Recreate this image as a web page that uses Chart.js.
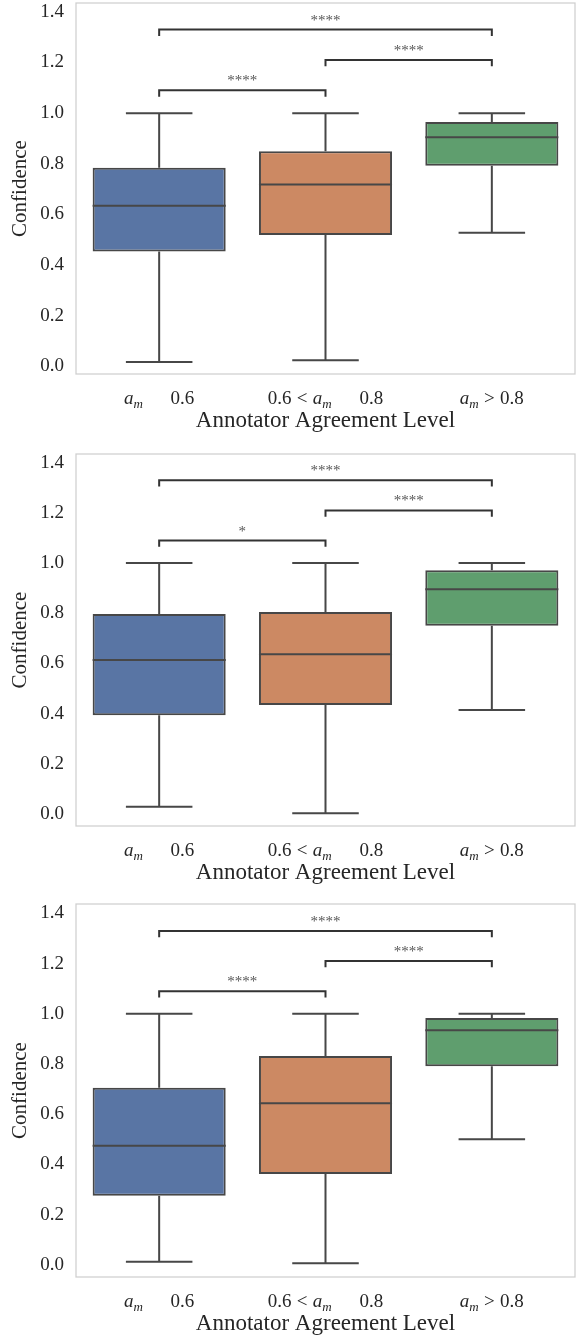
<!DOCTYPE html>
<html>
<head>
<meta charset="utf-8">
<script src="https://cdn.jsdelivr.net/npm/chart.js@4.4.1/dist/chart.umd.min.js"></script>
<style>
  html, body { margin: 0; padding: 0; background: #fff; }
  #wrap { position: relative; width: 577px; height: 1335px; }
  canvas { position: absolute; left: 0; }
</style>
</head>
<body>
<div id="wrap">
  <canvas id="c0" width="577" height="440" style="top:0px"></canvas>
  <canvas id="c1" width="577" height="450" style="top:440px"></canvas>
  <canvas id="c2" width="577" height="445" style="top:890px"></canvas>
</div>
<script>
const categories = ['a_m ≤ 0.6', '0.6 < a_m ≤ 0.8', 'a_m > 0.8'];
const yTicks = [0, 0.2, 0.4, 0.6, 0.8, 1.0, 1.2, 1.4];

// one row per panel, one value per category
const whiskerLow = [[0.017, 0.024, 0.528], [0.029, 0.003, 0.414], [0.013, 0.007, 0.500]];
const q1 = [[0.454, 0.519, 0.792], [0.394, 0.434, 0.750], [0.275, 0.362, 0.791]];
const median = [[0.634, 0.718, 0.905], [0.614, 0.637, 0.896], [0.475, 0.644, 0.934]];
const q3 = [[0.784, 0.850, 0.965], [0.797, 0.805, 0.972], [0.705, 0.832, 0.983]];
const whiskerHigh = [[1.0, 1.0, 1.0], [1.0, 1.0, 1.0], [1.0, 1.0, 1.0]];

const bracketPairs = [[0, 1], [1, 2], [0, 2]];
const bracketLevels = [1.09, 1.21, 1.33];
const bracketStars = [['****', '****', '****'], ['*', '****', '****'], ['****', '****', '****']];

const yLimits = [[-0.03, 1.435], [-0.048, 1.435], [-0.048, 1.437]];

const boxColors = ['#5975a4', '#cc8963', '#5f9e6e'];
const edge = '#474747';
const serif = '"Liberation Serif", "DejaVu Serif", serif';

// canvas layout: plot top / bottom inside each canvas
const plotTop = [3, 14, 14];
const plotBottom = [374, 386, 387];

function drawCategory(ctx, text, cx, baseline) {
    const size = 19;
    const normal = size + 'px ' + serif;
    const italic = 'italic ' + normal;
    const sub = 'italic 13px ' + serif;
    const rel = size * 0.278;
    const pieces = [];
    text.split(' ').forEach(tok => {
        if (tok === 'a_m') {
            pieces.push({ t: 'a', f: italic, dy: 0 });
            pieces.push({ t: 'm', f: sub, dy: 4 });
        } else if (tok === '<' || tok === '>') {
            pieces.push({ gap: rel });
            pieces.push({ t: tok, f: normal, dy: 0 });
            pieces.push({ gap: rel });
        } else if (tok === '≤') {
            // the symbol did not render in the source figure, only its space remains
            pieces.push({ gap: rel * 2 + size * 0.9 });
        } else {
            pieces.push({ t: tok, f: normal, dy: 0 });
        }
    });
    let total = 0;
    pieces.forEach(p => {
        if (p.t) { ctx.font = p.f; p.w = ctx.measureText(p.t).width; } else p.w = p.gap;
        total += p.w;
    });
    let x = cx - total / 2;
    ctx.fillStyle = '#262626';
    ctx.textAlign = 'left';
    ctx.textBaseline = 'alphabetic';
    pieces.forEach(p => {
        if (p.t) { ctx.font = p.f; ctx.fillText(p.t, x, baseline + p.dy); }
        x += p.w;
    });
}

const boxPlotParts = {
    id: 'boxPlotParts',
    beforeDatasetsDraw(chart) {
        const p = chart.options.panel;
        const { ctx, scales: { x, y } } = chart;
        const step = x.getPixelForValue(1) - x.getPixelForValue(0);
        ctx.save();
        ctx.strokeStyle = edge;
        ctx.lineWidth = 2;
        categories.forEach((c, i) => {
            const cx = x.getPixelForValue(i);
            const capHalf = step * 0.2;
            ctx.beginPath();
            ctx.moveTo(cx, y.getPixelForValue(q3[p][i]));
            ctx.lineTo(cx, y.getPixelForValue(whiskerHigh[p][i]));
            ctx.moveTo(cx, y.getPixelForValue(q1[p][i]));
            ctx.lineTo(cx, y.getPixelForValue(whiskerLow[p][i]));
            ctx.moveTo(cx - capHalf, y.getPixelForValue(whiskerHigh[p][i]));
            ctx.lineTo(cx + capHalf, y.getPixelForValue(whiskerHigh[p][i]));
            ctx.moveTo(cx - capHalf, y.getPixelForValue(whiskerLow[p][i]));
            ctx.lineTo(cx + capHalf, y.getPixelForValue(whiskerLow[p][i]));
            ctx.stroke();
        });
        ctx.restore();
    },
    afterDatasetsDraw(chart) {
        const p = chart.options.panel;
        const { ctx, chartArea, scales: { x, y } } = chart;
        const step = x.getPixelForValue(1) - x.getPixelForValue(0);
        ctx.save();
        ctx.strokeStyle = edge;
        ctx.lineWidth = 2;
        categories.forEach((c, i) => {
            const cx = x.getPixelForValue(i);
            const my = y.getPixelForValue(median[p][i]);
            ctx.beginPath();
            ctx.moveTo(cx - step * 0.4, my);
            ctx.lineTo(cx + step * 0.4, my);
            ctx.stroke();
        });

        // significance brackets
        bracketPairs.forEach((pair, k) => {
            const x0 = x.getPixelForValue(pair[0]);
            const x1 = x.getPixelForValue(pair[1]);
            const yb = y.getPixelForValue(bracketLevels[k]);
            const yt = y.getPixelForValue(bracketLevels[k] - 0.025);
            ctx.strokeStyle = '#333';
            ctx.lineWidth = 2;
            ctx.beginPath();
            ctx.moveTo(x0, yt);
            ctx.lineTo(x0, yb);
            ctx.lineTo(x1, yb);
            ctx.lineTo(x1, yt);
            ctx.stroke();
            ctx.fillStyle = '#555';
            ctx.font = '15px ' + serif;
            ctx.textAlign = 'center';
            ctx.textBaseline = 'alphabetic';
            ctx.fillText(bracketStars[p][k], (x0 + x1) / 2, yb - 5);
        });

        // frame
        ctx.strokeStyle = '#cfcfcf';
        ctx.lineWidth = 1.25;
        ctx.strokeRect(chartArea.left, chartArea.top, chartArea.right - chartArea.left, chartArea.bottom - chartArea.top);
        ctx.restore();
    },
    afterDraw(chart) {
        const { ctx, chartArea, scales: { x } } = chart;
        ctx.save();
        categories.forEach((c, i) => drawCategory(ctx, c, x.getPixelForValue(i), chartArea.bottom + 30));
        ctx.fillStyle = '#262626';
        ctx.font = '23px ' + serif;
        ctx.textAlign = 'center';
        ctx.textBaseline = 'alphabetic';
        ctx.fillText('Annotator Agreement Level', (chartArea.left + chartArea.right) / 2, chartArea.bottom + 53);
        ctx.restore();
    }
};

function makePanel(p) {
    const canvas = document.getElementById('c' + p);
    const h = canvas.height;
    return new Chart(canvas.getContext('2d'), {
        type: 'bar',
        data: {
            labels: categories,
            datasets: [{
                data: q1[p].map((v, i) => [v, q3[p][i]]),
                backgroundColor: boxColors,
                borderColor: edge,
                borderWidth: 2,
                borderSkipped: false,
                barPercentage: 0.8,
                categoryPercentage: 1.0
            }]
        },
        options: {
            panel: p,
            responsive: false,
            animation: false,
            layout: { padding: { top: plotTop[p], right: 2, bottom: 0, left: 0 } },
            plugins: { legend: { display: false }, tooltip: { enabled: false } },
            scales: {
                x: {
                    grid: { display: false },
                    border: { display: false },
                    ticks: { display: false },
                    afterFit: s => {
                        s.height = h - plotBottom[p];
                        s.paddingLeft = s.paddingRight = 0;
                    }
                },
                y: {
                    min: yLimits[p][0],
                    max: yLimits[p][1],
                    grid: { display: false, drawTicks: false },
                    border: { display: false },
                    afterBuildTicks: s => { s.ticks = yTicks.map(v => ({ value: v })); },
                    ticks: {
                        padding: 12,
                        color: '#262626',
                        font: { family: serif, size: 19 },
                        callback: v => v.toFixed(1)
                    },
                    title: {
                        display: true,
                        text: 'Confidence',
                        color: '#262626',
                        font: { family: serif, size: 21 },
                        padding: { top: 8, bottom: 0 }
                    },
                    afterFit: s => {
                        s.width = 76;
                        s.paddingTop = s.paddingBottom = 0;
                    }
                }
            }
        },
        plugins: [boxPlotParts]
    });
}

[0, 1, 2].forEach(makePanel);
</script>
</body>
</html>
